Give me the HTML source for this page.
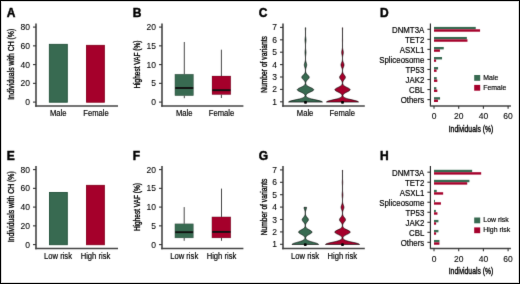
<!DOCTYPE html>
<html><head><meta charset="utf-8"><style>
html,body{margin:0;padding:0;background:#fff;}
body{width:520px;height:284px;overflow:hidden;}
svg{display:block;font-family:"Liberation Sans", sans-serif;will-change:transform;}
text{fill:#000;stroke:#000;stroke-width:0.18px;}
</style></head><body>
<svg width="520" height="284" viewBox="0 0 520 284">
<defs><filter id="soft" x="0" y="0" width="520" height="284" filterUnits="userSpaceOnUse" color-interpolation-filters="sRGB"><feConvolveMatrix order="3" kernelMatrix="0.0064 0.0672 0.0064 0.0672 0.7056 0.0672 0.0064 0.0672 0.0064" divisor="1" edgeMode="duplicate"/></filter></defs>
<g filter="url(#soft)">
<rect x="0" y="0" width="520" height="284" fill="#fff"/>
<line x1="36.00" y1="23.50" x2="36.00" y2="106.80" stroke="#444" stroke-width="1.6" stroke-linecap="butt"/>
<line x1="35.20" y1="106.00" x2="118.00" y2="106.00" stroke="#444" stroke-width="1.6" stroke-linecap="butt"/>
<line x1="33.00" y1="27.10" x2="36.00" y2="27.10" stroke="#333" stroke-width="1.1" stroke-linecap="butt"/>
<text x="29.90" y="30.10" font-size="8.5" text-anchor="end" font-weight="normal" style="stroke-width:0.08px">80</text>
<line x1="33.00" y1="45.85" x2="36.00" y2="45.85" stroke="#333" stroke-width="1.1" stroke-linecap="butt"/>
<text x="29.90" y="48.85" font-size="8.5" text-anchor="end" font-weight="normal" style="stroke-width:0.08px">60</text>
<line x1="33.00" y1="64.60" x2="36.00" y2="64.60" stroke="#333" stroke-width="1.1" stroke-linecap="butt"/>
<text x="29.90" y="67.60" font-size="8.5" text-anchor="end" font-weight="normal" style="stroke-width:0.08px">40</text>
<line x1="33.00" y1="83.35" x2="36.00" y2="83.35" stroke="#333" stroke-width="1.1" stroke-linecap="butt"/>
<text x="29.90" y="86.35" font-size="8.5" text-anchor="end" font-weight="normal" style="stroke-width:0.08px">20</text>
<line x1="33.00" y1="102.10" x2="36.00" y2="102.10" stroke="#333" stroke-width="1.1" stroke-linecap="butt"/>
<text x="29.90" y="105.10" font-size="8.5" text-anchor="end" font-weight="normal" style="stroke-width:0.08px">0</text>
<text transform="translate(14.40,64.30) rotate(-90) scale(0.83,1)" font-size="8.3" text-anchor="middle" style="stroke-width:0.35px">Individuals with CH (%)</text>
<line x1="162.00" y1="23.50" x2="162.00" y2="106.80" stroke="#444" stroke-width="1.6" stroke-linecap="butt"/>
<line x1="161.20" y1="106.00" x2="243.40" y2="106.00" stroke="#444" stroke-width="1.6" stroke-linecap="butt"/>
<line x1="159.00" y1="27.10" x2="162.00" y2="27.10" stroke="#333" stroke-width="1.1" stroke-linecap="butt"/>
<text x="156.00" y="30.10" font-size="8.5" text-anchor="end" font-weight="normal" style="stroke-width:0.08px">20</text>
<line x1="159.00" y1="45.85" x2="162.00" y2="45.85" stroke="#333" stroke-width="1.1" stroke-linecap="butt"/>
<text x="156.00" y="48.85" font-size="8.5" text-anchor="end" font-weight="normal" style="stroke-width:0.08px">15</text>
<line x1="159.00" y1="64.60" x2="162.00" y2="64.60" stroke="#333" stroke-width="1.1" stroke-linecap="butt"/>
<text x="156.00" y="67.60" font-size="8.5" text-anchor="end" font-weight="normal" style="stroke-width:0.08px">10</text>
<line x1="159.00" y1="83.35" x2="162.00" y2="83.35" stroke="#333" stroke-width="1.1" stroke-linecap="butt"/>
<text x="156.00" y="86.35" font-size="8.5" text-anchor="end" font-weight="normal" style="stroke-width:0.08px">5</text>
<line x1="159.00" y1="102.10" x2="162.00" y2="102.10" stroke="#333" stroke-width="1.1" stroke-linecap="butt"/>
<text x="156.00" y="105.10" font-size="8.5" text-anchor="end" font-weight="normal" style="stroke-width:0.08px">0</text>
<text transform="translate(139.90,64.60) rotate(-90) scale(0.785,1)" font-size="8.3" text-anchor="middle" style="stroke-width:0.35px">Highest VAF (%)</text>
<line x1="283.00" y1="23.50" x2="283.00" y2="106.80" stroke="#444" stroke-width="1.6" stroke-linecap="butt"/>
<line x1="282.20" y1="106.00" x2="364.80" y2="106.00" stroke="#444" stroke-width="1.6" stroke-linecap="butt"/>
<line x1="280.00" y1="27.40" x2="283.00" y2="27.40" stroke="#333" stroke-width="1.1" stroke-linecap="butt"/>
<text x="277.00" y="30.40" font-size="8.5" text-anchor="end" font-weight="normal" style="stroke-width:0.08px">7</text>
<line x1="280.00" y1="39.80" x2="283.00" y2="39.80" stroke="#333" stroke-width="1.1" stroke-linecap="butt"/>
<text x="277.00" y="42.80" font-size="8.5" text-anchor="end" font-weight="normal" style="stroke-width:0.08px">6</text>
<line x1="280.00" y1="52.20" x2="283.00" y2="52.20" stroke="#333" stroke-width="1.1" stroke-linecap="butt"/>
<text x="277.00" y="55.20" font-size="8.5" text-anchor="end" font-weight="normal" style="stroke-width:0.08px">5</text>
<line x1="280.00" y1="64.60" x2="283.00" y2="64.60" stroke="#333" stroke-width="1.1" stroke-linecap="butt"/>
<text x="277.00" y="67.60" font-size="8.5" text-anchor="end" font-weight="normal" style="stroke-width:0.08px">4</text>
<line x1="280.00" y1="77.00" x2="283.00" y2="77.00" stroke="#333" stroke-width="1.1" stroke-linecap="butt"/>
<text x="277.00" y="80.00" font-size="8.5" text-anchor="end" font-weight="normal" style="stroke-width:0.08px">3</text>
<line x1="280.00" y1="89.40" x2="283.00" y2="89.40" stroke="#333" stroke-width="1.1" stroke-linecap="butt"/>
<text x="277.00" y="92.40" font-size="8.5" text-anchor="end" font-weight="normal" style="stroke-width:0.08px">2</text>
<line x1="280.00" y1="101.80" x2="283.00" y2="101.80" stroke="#333" stroke-width="1.1" stroke-linecap="butt"/>
<text x="277.00" y="104.80" font-size="8.5" text-anchor="end" font-weight="normal" style="stroke-width:0.08px">1</text>
<text transform="translate(266.50,64.50) rotate(-90) scale(0.81,1)" font-size="8.3" text-anchor="middle" style="stroke-width:0.35px">Number of variants</text>
<text x="6.70" y="16.90" font-size="12.0" text-anchor="start" font-weight="bold" style="stroke-width:0.45px">A</text>
<text x="132.70" y="17.00" font-size="12.0" text-anchor="start" font-weight="bold" style="stroke-width:0.45px">B</text>
<text x="258.80" y="17.10" font-size="12.0" text-anchor="start" font-weight="bold" style="stroke-width:0.45px">C</text>
<text x="379.90" y="16.90" font-size="12.0" text-anchor="start" font-weight="bold" style="stroke-width:0.45px">D</text>
<rect x="49.35" y="44.35" width="17.95" height="57.85" fill="#386a51" stroke="#22503a" stroke-width="0.9"/>
<rect x="86.55" y="45.35" width="17.80" height="56.85" fill="#a5002b" stroke="#88001f" stroke-width="0.9"/>
<text transform="translate(58.20,116.00) scale(0.92,1)" font-size="8.3" text-anchor="middle" font-weight="normal">Male</text>
<text transform="translate(96.00,116.00) scale(0.92,1)" font-size="8.3" text-anchor="middle" font-weight="normal">Female</text>
<line x1="184.30" y1="42.00" x2="184.30" y2="74.20" stroke="#333" stroke-width="0.9" stroke-linecap="butt"/>
<line x1="184.30" y1="95.70" x2="184.30" y2="98.20" stroke="#333" stroke-width="0.9" stroke-linecap="butt"/>
<rect x="174.90" y="74.20" width="18.60" height="21.50" fill="#386a51" stroke="rgba(0,0,0,0.35)" stroke-width="0.5"/>
<line x1="175.20" y1="88.00" x2="193.20" y2="88.00" stroke="#111" stroke-width="1.9" stroke-linecap="butt"/>
<line x1="221.40" y1="49.70" x2="221.40" y2="76.00" stroke="#333" stroke-width="0.9" stroke-linecap="butt"/>
<line x1="221.40" y1="94.60" x2="221.40" y2="98.00" stroke="#333" stroke-width="0.9" stroke-linecap="butt"/>
<rect x="212.00" y="76.00" width="18.80" height="18.60" fill="#a5002b" stroke="rgba(0,0,0,0.35)" stroke-width="0.5"/>
<line x1="212.30" y1="90.20" x2="230.50" y2="90.20" stroke="#111" stroke-width="1.9" stroke-linecap="butt"/>
<text transform="translate(184.20,116.00) scale(0.92,1)" font-size="8.3" text-anchor="middle" font-weight="normal">Male</text>
<text transform="translate(221.50,116.00) scale(0.92,1)" font-size="8.3" text-anchor="middle" font-weight="normal">Female</text>
<path d="M322.40,102.10 L322.30,101.85 L321.99,101.60 L321.49,101.36 L320.81,101.11 L319.98,100.86 L319.03,100.61 L317.99,100.36 L316.88,100.12 L315.75,99.87 L314.62,99.62 L313.51,99.37 L312.45,99.12 L311.46,98.88 L310.54,98.63 L309.72,98.38 L308.99,98.13 L308.35,97.88 L307.80,97.64 L307.34,97.39 L306.96,97.14 L306.66,96.89 L306.42,96.64 L306.24,96.40 L306.11,96.15 L306.03,95.90 L305.99,95.65 L306.00,95.40 L306.05,95.16 L306.13,94.91 L306.26,94.66 L306.43,94.41 L306.64,94.16 L306.90,93.92 L307.20,93.67 L307.55,93.42 L307.95,93.17 L308.39,92.92 L308.87,92.68 L309.39,92.43 L309.92,92.18 L310.47,91.93 L311.02,91.68 L311.56,91.44 L312.07,91.19 L312.53,90.94 L312.93,90.69 L313.26,90.44 L313.50,90.20 L313.65,89.95 L313.70,89.70 L313.65,89.45 L313.50,89.20 L313.26,88.96 L312.93,88.71 L312.53,88.46 L312.07,88.21 L311.56,87.96 L311.02,87.72 L310.47,87.47 L309.92,87.22 L309.39,86.97 L308.87,86.72 L308.39,86.48 L307.95,86.23 L307.55,85.98 L307.19,85.73 L306.88,85.48 L306.62,85.24 L306.39,84.99 L306.21,84.74 L306.06,84.49 L305.94,84.24 L305.85,84.00 L305.79,83.75 L305.75,83.50 L305.73,83.25 L305.73,83.00 L305.75,82.76 L305.79,82.51 L305.84,82.26 L305.92,82.01 L306.02,81.76 L306.13,81.52 L306.27,81.27 L306.43,81.02 L306.61,80.77 L306.81,80.52 L307.02,80.28 L307.25,80.03 L307.50,79.78 L307.74,79.53 L307.99,79.28 L308.23,79.04 L308.46,78.79 L308.67,78.54 L308.85,78.29 L309.00,78.04 L309.11,77.80 L309.18,77.55 L309.20,77.30 L309.18,77.05 L309.11,76.80 L309.00,76.56 L308.85,76.31 L308.67,76.06 L308.46,75.81 L308.23,75.56 L307.99,75.32 L307.74,75.07 L307.50,74.82 L307.25,74.57 L307.02,74.32 L306.80,74.08 L306.60,73.83 L306.42,73.58 L306.26,73.33 L306.12,73.08 L306.00,72.84 L305.90,72.59 L305.82,72.34 L305.75,72.09 L305.70,71.84 L305.65,71.60 L305.62,71.35 L305.60,71.10 L305.59,70.85 L305.59,70.60 L305.59,70.36 L305.60,70.11 L305.62,69.86 L305.64,69.61 L305.67,69.36 L305.71,69.12 L305.75,68.87 L305.80,68.62 L305.86,68.37 L305.92,68.12 L305.99,67.88 L306.07,67.63 L306.15,67.38 L306.23,67.13 L306.31,66.88 L306.39,66.64 L306.46,66.39 L306.53,66.14 L306.59,65.89 L306.64,65.64 L306.67,65.40 L306.69,65.15 L306.70,64.90 L306.69,64.65 L306.67,64.40 L306.64,64.16 L306.59,63.91 L306.53,63.66 L306.46,63.41 L306.39,63.16 L306.31,62.92 L306.23,62.67 L306.15,62.42 L306.07,62.17 L305.99,61.92 L305.92,61.68 L305.86,61.43 L305.80,61.18 L305.75,60.93 L305.70,60.68 L305.66,60.44 L305.63,60.19 L305.60,59.94 L305.58,59.69 L305.56,59.44 L305.55,59.20 L305.55,58.95 L305.55,58.70 L305.55,58.45 L305.55,58.20 L305.55,57.96 L305.55,57.71 L305.55,57.46 L305.56,57.21 L305.57,56.96 L305.59,56.72 L305.60,56.47 L305.63,56.22 L305.65,55.97 L305.68,55.72 L305.71,55.48 L305.74,55.23 L305.77,54.98 L305.80,54.73 L305.84,54.48 L305.87,54.24 L305.90,53.99 L305.93,53.74 L305.95,53.49 L305.97,53.24 L305.99,53.00 L306.00,52.75 L306.00,52.50 L306.00,52.25 L305.99,52.00 L305.97,51.76 L305.95,51.51 L305.93,51.26 L305.90,51.01 L305.87,50.76 L305.84,50.52 L305.80,50.27 L305.77,50.02 L305.74,49.77 L305.71,49.52 L305.68,49.28 L305.65,49.03 L305.62,48.78 L305.60,48.53 L305.58,48.28 L305.57,48.04 L305.56,47.79 L305.55,47.54 L305.55,47.29 L305.55,47.04 L305.55,46.80 L305.55,46.55 L305.55,46.30 L305.55,46.05 L305.55,45.80 L305.55,45.56 L305.55,45.31 L305.55,45.06 L305.56,44.81 L305.57,44.56 L305.58,44.32 L305.60,44.07 L305.62,43.82 L305.65,43.57 L305.68,43.32 L305.71,43.08 L305.74,42.83 L305.77,42.58 L305.80,42.33 L305.84,42.08 L305.87,41.84 L305.90,41.59 L305.93,41.34 L305.95,41.09 L305.97,40.84 L305.99,40.60 L306.00,40.35 L306.00,40.10 L306.00,39.85 L305.99,39.60 L305.97,39.36 L305.95,39.11 L305.93,38.86 L305.90,38.61 L305.87,38.36 L305.84,38.12 L305.80,37.87 L305.77,37.62 L305.74,37.37 L305.71,37.12 L305.68,36.88 L305.65,36.63 L305.62,36.38 L305.60,36.13 L305.58,35.88 L305.57,35.64 L305.55,35.39 L305.55,35.14 L305.55,34.89 L305.55,34.64 L305.55,34.40 L305.55,34.15 L305.55,33.90 L305.55,33.65 L305.55,33.40 L305.55,33.16 L305.55,32.91 L305.55,32.66 L305.55,32.41 L305.55,32.16 L305.55,31.92 L305.55,31.67 L305.55,31.42 L305.56,31.17 L305.57,30.92 L305.58,30.68 L305.59,30.43 L305.61,30.18 L305.62,29.93 L305.63,29.68 L305.65,29.44 L305.66,29.19 L305.67,28.94 L305.68,28.69 L305.69,28.44 L305.70,28.20 L305.70,27.95 L305.70,27.70 L305.30,27.70 L305.30,27.95 L305.30,28.20 L305.31,28.44 L305.32,28.69 L305.33,28.94 L305.34,29.19 L305.35,29.44 L305.37,29.68 L305.38,29.93 L305.39,30.18 L305.41,30.43 L305.42,30.68 L305.43,30.92 L305.44,31.17 L305.45,31.42 L305.45,31.67 L305.45,31.92 L305.45,32.16 L305.45,32.41 L305.45,32.66 L305.45,32.91 L305.45,33.16 L305.45,33.40 L305.45,33.65 L305.45,33.90 L305.45,34.15 L305.45,34.40 L305.45,34.64 L305.45,34.89 L305.45,35.14 L305.45,35.39 L305.43,35.64 L305.42,35.88 L305.40,36.13 L305.38,36.38 L305.35,36.63 L305.32,36.88 L305.29,37.12 L305.26,37.37 L305.23,37.62 L305.20,37.87 L305.16,38.12 L305.13,38.36 L305.10,38.61 L305.07,38.86 L305.05,39.11 L305.03,39.36 L305.01,39.60 L305.00,39.85 L305.00,40.10 L305.00,40.35 L305.01,40.60 L305.03,40.84 L305.05,41.09 L305.07,41.34 L305.10,41.59 L305.13,41.84 L305.16,42.08 L305.20,42.33 L305.23,42.58 L305.26,42.83 L305.29,43.08 L305.32,43.32 L305.35,43.57 L305.38,43.82 L305.40,44.07 L305.42,44.32 L305.43,44.56 L305.44,44.81 L305.45,45.06 L305.45,45.31 L305.45,45.56 L305.45,45.80 L305.45,46.05 L305.45,46.30 L305.45,46.55 L305.45,46.80 L305.45,47.04 L305.45,47.29 L305.45,47.54 L305.44,47.79 L305.43,48.04 L305.42,48.28 L305.40,48.53 L305.38,48.78 L305.35,49.03 L305.32,49.28 L305.29,49.52 L305.26,49.77 L305.23,50.02 L305.20,50.27 L305.16,50.52 L305.13,50.76 L305.10,51.01 L305.07,51.26 L305.05,51.51 L305.03,51.76 L305.01,52.00 L305.00,52.25 L305.00,52.50 L305.00,52.75 L305.01,53.00 L305.03,53.24 L305.05,53.49 L305.07,53.74 L305.10,53.99 L305.13,54.24 L305.16,54.48 L305.20,54.73 L305.23,54.98 L305.26,55.23 L305.29,55.48 L305.32,55.72 L305.35,55.97 L305.37,56.22 L305.40,56.47 L305.41,56.72 L305.43,56.96 L305.44,57.21 L305.45,57.46 L305.45,57.71 L305.45,57.96 L305.45,58.20 L305.45,58.45 L305.45,58.70 L305.45,58.95 L305.45,59.20 L305.44,59.44 L305.42,59.69 L305.40,59.94 L305.37,60.19 L305.34,60.44 L305.30,60.68 L305.25,60.93 L305.20,61.18 L305.14,61.43 L305.08,61.68 L305.01,61.92 L304.93,62.17 L304.85,62.42 L304.77,62.67 L304.69,62.92 L304.61,63.16 L304.54,63.41 L304.47,63.66 L304.41,63.91 L304.36,64.16 L304.33,64.40 L304.31,64.65 L304.30,64.90 L304.31,65.15 L304.33,65.40 L304.36,65.64 L304.41,65.89 L304.47,66.14 L304.54,66.39 L304.61,66.64 L304.69,66.88 L304.77,67.13 L304.85,67.38 L304.93,67.63 L305.01,67.88 L305.08,68.12 L305.14,68.37 L305.20,68.62 L305.25,68.87 L305.29,69.12 L305.33,69.36 L305.36,69.61 L305.38,69.86 L305.40,70.11 L305.41,70.36 L305.41,70.60 L305.41,70.85 L305.40,71.10 L305.38,71.35 L305.35,71.60 L305.30,71.84 L305.25,72.09 L305.18,72.34 L305.10,72.59 L305.00,72.84 L304.88,73.08 L304.74,73.33 L304.58,73.58 L304.40,73.83 L304.20,74.08 L303.98,74.32 L303.75,74.57 L303.50,74.82 L303.26,75.07 L303.01,75.32 L302.77,75.56 L302.54,75.81 L302.33,76.06 L302.15,76.31 L302.00,76.56 L301.89,76.80 L301.82,77.05 L301.80,77.30 L301.82,77.55 L301.89,77.80 L302.00,78.04 L302.15,78.29 L302.33,78.54 L302.54,78.79 L302.77,79.04 L303.01,79.28 L303.26,79.53 L303.50,79.78 L303.75,80.03 L303.98,80.28 L304.19,80.52 L304.39,80.77 L304.57,81.02 L304.73,81.27 L304.87,81.52 L304.98,81.76 L305.08,82.01 L305.16,82.26 L305.21,82.51 L305.25,82.76 L305.27,83.00 L305.27,83.25 L305.25,83.50 L305.21,83.75 L305.15,84.00 L305.06,84.24 L304.94,84.49 L304.79,84.74 L304.61,84.99 L304.38,85.24 L304.12,85.48 L303.81,85.73 L303.45,85.98 L303.05,86.23 L302.61,86.48 L302.13,86.72 L301.61,86.97 L301.08,87.22 L300.53,87.47 L299.98,87.72 L299.44,87.96 L298.93,88.21 L298.47,88.46 L298.07,88.71 L297.74,88.96 L297.50,89.20 L297.35,89.45 L297.30,89.70 L297.35,89.95 L297.50,90.20 L297.74,90.44 L298.07,90.69 L298.47,90.94 L298.93,91.19 L299.44,91.44 L299.98,91.68 L300.53,91.93 L301.08,92.18 L301.61,92.43 L302.13,92.68 L302.61,92.92 L303.05,93.17 L303.45,93.42 L303.80,93.67 L304.10,93.92 L304.36,94.16 L304.57,94.41 L304.74,94.66 L304.87,94.91 L304.95,95.16 L305.00,95.40 L305.01,95.65 L304.97,95.90 L304.89,96.15 L304.76,96.40 L304.58,96.64 L304.34,96.89 L304.04,97.14 L303.66,97.39 L303.20,97.64 L302.65,97.88 L302.01,98.13 L301.28,98.38 L300.46,98.63 L299.54,98.88 L298.55,99.12 L297.49,99.37 L296.38,99.62 L295.25,99.87 L294.12,100.12 L293.01,100.36 L291.97,100.61 L291.02,100.86 L290.19,101.11 L289.51,101.36 L289.01,101.60 L288.70,101.85 L288.60,102.10 Z" fill="#386a51" stroke="#000" stroke-width="0.6" stroke-linejoin="round"/>
<rect x="304.10" y="100.90" width="2.8" height="2.8" rx="0.8" fill="#000"/>
<path d="M358.50,102.10 L358.40,101.85 L358.11,101.60 L357.64,101.36 L357.00,101.11 L356.21,100.86 L355.31,100.61 L354.32,100.36 L353.28,100.12 L352.20,99.87 L351.13,99.62 L350.08,99.37 L349.08,99.12 L348.14,98.88 L347.27,98.63 L346.49,98.38 L345.80,98.13 L345.20,97.88 L344.68,97.64 L344.24,97.39 L343.88,97.14 L343.59,96.89 L343.37,96.64 L343.20,96.40 L343.07,96.15 L343.00,95.90 L342.96,95.65 L342.97,95.40 L343.01,95.16 L343.09,94.91 L343.21,94.66 L343.36,94.41 L343.56,94.16 L343.80,93.92 L344.08,93.67 L344.40,93.42 L344.77,93.17 L345.18,92.92 L345.63,92.68 L346.10,92.43 L346.60,92.18 L347.11,91.93 L347.62,91.68 L348.12,91.44 L348.59,91.19 L349.01,90.94 L349.39,90.69 L349.69,90.44 L349.91,90.20 L350.05,89.95 L350.10,89.70 L350.05,89.45 L349.91,89.20 L349.69,88.96 L349.39,88.71 L349.01,88.46 L348.59,88.21 L348.12,87.96 L347.62,87.72 L347.11,87.47 L346.60,87.22 L346.10,86.97 L345.62,86.72 L345.18,86.48 L344.77,86.23 L344.40,85.98 L344.07,85.73 L343.78,85.48 L343.53,85.24 L343.33,84.99 L343.15,84.74 L343.02,84.49 L342.91,84.24 L342.82,84.00 L342.76,83.75 L342.72,83.50 L342.70,83.25 L342.70,83.00 L342.71,82.76 L342.73,82.51 L342.77,82.26 L342.83,82.01 L342.91,81.76 L343.00,81.52 L343.10,81.27 L343.23,81.02 L343.37,80.77 L343.52,80.52 L343.69,80.28 L343.87,80.03 L344.06,79.78 L344.26,79.53 L344.45,79.28 L344.64,79.04 L344.82,78.79 L344.99,78.54 L345.13,78.29 L345.24,78.04 L345.33,77.80 L345.38,77.55 L345.40,77.30 L345.38,77.05 L345.33,76.80 L345.24,76.56 L345.13,76.31 L344.99,76.06 L344.82,75.81 L344.64,75.56 L344.45,75.32 L344.26,75.07 L344.06,74.82 L343.87,74.57 L343.69,74.32 L343.52,74.08 L343.37,73.83 L343.22,73.58 L343.10,73.33 L342.99,73.08 L342.90,72.84 L342.82,72.59 L342.75,72.34 L342.70,72.09 L342.66,71.84 L342.63,71.60 L342.61,71.35 L342.59,71.10 L342.59,70.85 L342.59,70.60 L342.60,70.36 L342.62,70.11 L342.64,69.86 L342.67,69.61 L342.71,69.36 L342.76,69.12 L342.82,68.87 L342.89,68.62 L342.96,68.37 L343.05,68.12 L343.14,67.88 L343.23,67.63 L343.34,67.38 L343.44,67.13 L343.54,66.88 L343.65,66.64 L343.74,66.39 L343.83,66.14 L343.90,65.89 L343.97,65.64 L344.01,65.40 L344.04,65.15 L344.05,64.90 L344.04,64.65 L344.01,64.40 L343.97,64.16 L343.90,63.91 L343.83,63.66 L343.74,63.41 L343.65,63.16 L343.54,62.92 L343.44,62.67 L343.34,62.42 L343.23,62.17 L343.14,61.92 L343.05,61.68 L342.96,61.43 L342.89,61.18 L342.82,60.93 L342.76,60.68 L342.71,60.44 L342.67,60.19 L342.63,59.94 L342.61,59.69 L342.58,59.44 L342.57,59.20 L342.56,58.95 L342.55,58.70 L342.55,58.45 L342.55,58.20 L342.56,57.96 L342.56,57.71 L342.58,57.46 L342.60,57.21 L342.62,56.96 L342.64,56.72 L342.68,56.47 L342.71,56.22 L342.75,55.97 L342.80,55.72 L342.85,55.48 L342.90,55.23 L342.96,54.98 L343.02,54.73 L343.07,54.48 L343.13,54.24 L343.18,53.99 L343.23,53.74 L343.27,53.49 L343.30,53.24 L343.33,53.00 L343.34,52.75 L343.35,52.50 L343.34,52.25 L343.33,52.00 L343.30,51.76 L343.27,51.51 L343.23,51.26 L343.18,51.01 L343.13,50.76 L343.07,50.52 L343.02,50.27 L342.96,50.02 L342.90,49.77 L342.85,49.52 L342.80,49.28 L342.75,49.03 L342.71,48.78 L342.68,48.53 L342.64,48.28 L342.62,48.04 L342.59,47.79 L342.57,47.54 L342.56,47.29 L342.55,47.04 L342.55,46.80 L342.55,46.55 L342.55,46.30 L342.55,46.05 L342.55,45.80 L342.55,45.56 L342.55,45.31 L342.55,45.06 L342.55,44.81 L342.55,44.56 L342.55,44.32 L342.55,44.07 L342.55,43.82 L342.55,43.57 L342.55,43.32 L342.55,43.08 L342.55,42.83 L342.55,42.58 L342.56,42.33 L342.57,42.08 L342.57,41.84 L342.58,41.59 L342.59,41.34 L342.59,41.09 L342.59,40.84 L342.60,40.60 L342.60,40.35 L342.60,40.10 L342.60,39.85 L342.60,39.60 L342.59,39.36 L342.59,39.11 L342.59,38.86 L342.58,38.61 L342.57,38.36 L342.57,38.12 L342.56,37.87 L342.55,37.62 L342.55,37.37 L342.55,37.12 L342.55,36.88 L342.55,36.63 L342.55,36.38 L342.55,36.13 L342.55,35.88 L342.55,35.64 L342.55,35.39 L342.55,35.14 L342.55,34.89 L342.55,34.64 L342.55,34.40 L342.55,34.15 L342.55,33.90 L342.55,33.65 L342.55,33.40 L342.55,33.16 L342.55,32.91 L342.55,32.66 L342.55,32.41 L342.55,32.16 L342.55,31.92 L342.55,31.67 L342.55,31.42 L342.55,31.17 L342.55,30.92 L342.56,30.68 L342.57,30.43 L342.58,30.18 L342.59,29.93 L342.60,29.68 L342.61,29.44 L342.62,29.19 L342.63,28.94 L342.64,28.69 L342.64,28.44 L342.65,28.20 L342.65,27.95 L342.65,27.70 L342.35,27.70 L342.35,27.95 L342.35,28.20 L342.36,28.44 L342.36,28.69 L342.37,28.94 L342.38,29.19 L342.39,29.44 L342.40,29.68 L342.41,29.93 L342.42,30.18 L342.43,30.43 L342.44,30.68 L342.45,30.92 L342.45,31.17 L342.45,31.42 L342.45,31.67 L342.45,31.92 L342.45,32.16 L342.45,32.41 L342.45,32.66 L342.45,32.91 L342.45,33.16 L342.45,33.40 L342.45,33.65 L342.45,33.90 L342.45,34.15 L342.45,34.40 L342.45,34.64 L342.45,34.89 L342.45,35.14 L342.45,35.39 L342.45,35.64 L342.45,35.88 L342.45,36.13 L342.45,36.38 L342.45,36.63 L342.45,36.88 L342.45,37.12 L342.45,37.37 L342.45,37.62 L342.44,37.87 L342.43,38.12 L342.43,38.36 L342.42,38.61 L342.41,38.86 L342.41,39.11 L342.41,39.36 L342.40,39.60 L342.40,39.85 L342.40,40.10 L342.40,40.35 L342.40,40.60 L342.41,40.84 L342.41,41.09 L342.41,41.34 L342.42,41.59 L342.43,41.84 L342.43,42.08 L342.44,42.33 L342.45,42.58 L342.45,42.83 L342.45,43.08 L342.45,43.32 L342.45,43.57 L342.45,43.82 L342.45,44.07 L342.45,44.32 L342.45,44.56 L342.45,44.81 L342.45,45.06 L342.45,45.31 L342.45,45.56 L342.45,45.80 L342.45,46.05 L342.45,46.30 L342.45,46.55 L342.45,46.80 L342.45,47.04 L342.44,47.29 L342.43,47.54 L342.41,47.79 L342.38,48.04 L342.36,48.28 L342.32,48.53 L342.29,48.78 L342.25,49.03 L342.20,49.28 L342.15,49.52 L342.10,49.77 L342.04,50.02 L341.98,50.27 L341.93,50.52 L341.87,50.76 L341.82,51.01 L341.77,51.26 L341.73,51.51 L341.70,51.76 L341.67,52.00 L341.66,52.25 L341.65,52.50 L341.66,52.75 L341.67,53.00 L341.70,53.24 L341.73,53.49 L341.77,53.74 L341.82,53.99 L341.87,54.24 L341.93,54.48 L341.98,54.73 L342.04,54.98 L342.10,55.23 L342.15,55.48 L342.20,55.72 L342.25,55.97 L342.29,56.22 L342.32,56.47 L342.36,56.72 L342.38,56.96 L342.40,57.21 L342.42,57.46 L342.44,57.71 L342.44,57.96 L342.45,58.20 L342.45,58.45 L342.45,58.70 L342.44,58.95 L342.43,59.20 L342.42,59.44 L342.39,59.69 L342.37,59.94 L342.33,60.19 L342.29,60.44 L342.24,60.68 L342.18,60.93 L342.11,61.18 L342.04,61.43 L341.95,61.68 L341.86,61.92 L341.77,62.17 L341.66,62.42 L341.56,62.67 L341.46,62.92 L341.35,63.16 L341.26,63.41 L341.17,63.66 L341.10,63.91 L341.03,64.16 L340.99,64.40 L340.96,64.65 L340.95,64.90 L340.96,65.15 L340.99,65.40 L341.03,65.64 L341.10,65.89 L341.17,66.14 L341.26,66.39 L341.35,66.64 L341.46,66.88 L341.56,67.13 L341.66,67.38 L341.77,67.63 L341.86,67.88 L341.95,68.12 L342.04,68.37 L342.11,68.62 L342.18,68.87 L342.24,69.12 L342.29,69.36 L342.33,69.61 L342.36,69.86 L342.38,70.11 L342.40,70.36 L342.41,70.60 L342.41,70.85 L342.41,71.10 L342.39,71.35 L342.37,71.60 L342.34,71.84 L342.30,72.09 L342.25,72.34 L342.18,72.59 L342.10,72.84 L342.01,73.08 L341.90,73.33 L341.78,73.58 L341.63,73.83 L341.48,74.08 L341.31,74.32 L341.13,74.57 L340.94,74.82 L340.74,75.07 L340.55,75.32 L340.36,75.56 L340.18,75.81 L340.01,76.06 L339.87,76.31 L339.76,76.56 L339.67,76.80 L339.62,77.05 L339.60,77.30 L339.62,77.55 L339.67,77.80 L339.76,78.04 L339.87,78.29 L340.01,78.54 L340.18,78.79 L340.36,79.04 L340.55,79.28 L340.74,79.53 L340.94,79.78 L341.13,80.03 L341.31,80.28 L341.48,80.52 L341.63,80.77 L341.77,81.02 L341.90,81.27 L342.00,81.52 L342.09,81.76 L342.17,82.01 L342.23,82.26 L342.27,82.51 L342.29,82.76 L342.30,83.00 L342.30,83.25 L342.28,83.50 L342.24,83.75 L342.18,84.00 L342.09,84.24 L341.98,84.49 L341.85,84.74 L341.67,84.99 L341.47,85.24 L341.22,85.48 L340.93,85.73 L340.60,85.98 L340.23,86.23 L339.82,86.48 L339.38,86.72 L338.90,86.97 L338.40,87.22 L337.89,87.47 L337.38,87.72 L336.88,87.96 L336.41,88.21 L335.99,88.46 L335.61,88.71 L335.31,88.96 L335.09,89.20 L334.95,89.45 L334.90,89.70 L334.95,89.95 L335.09,90.20 L335.31,90.44 L335.61,90.69 L335.99,90.94 L336.41,91.19 L336.88,91.44 L337.38,91.68 L337.89,91.93 L338.40,92.18 L338.90,92.43 L339.37,92.68 L339.82,92.92 L340.23,93.17 L340.60,93.42 L340.92,93.67 L341.20,93.92 L341.44,94.16 L341.64,94.41 L341.79,94.66 L341.91,94.91 L341.99,95.16 L342.03,95.40 L342.04,95.65 L342.00,95.90 L341.93,96.15 L341.80,96.40 L341.63,96.64 L341.41,96.89 L341.12,97.14 L340.76,97.39 L340.32,97.64 L339.80,97.88 L339.20,98.13 L338.51,98.38 L337.73,98.63 L336.86,98.88 L335.92,99.12 L334.92,99.37 L333.87,99.62 L332.80,99.87 L331.72,100.12 L330.68,100.36 L329.69,100.61 L328.79,100.86 L328.00,101.11 L327.36,101.36 L326.89,101.60 L326.60,101.85 L326.50,102.10 Z" fill="#a5002b" stroke="#000" stroke-width="0.6" stroke-linejoin="round"/>
<rect x="341.10" y="100.90" width="2.8" height="2.8" rx="0.8" fill="#000"/>
<text transform="translate(305.10,115.80) scale(0.92,1)" font-size="8.3" text-anchor="middle" font-weight="normal">Male</text>
<text transform="translate(342.30,115.80) scale(0.92,1)" font-size="8.3" text-anchor="middle" font-weight="normal">Female</text>
<line x1="430.40" y1="23.50" x2="430.40" y2="106.00" stroke="#222" stroke-width="1.15" stroke-linecap="butt"/>
<line x1="429.90" y1="106.00" x2="510.90" y2="106.00" stroke="#444" stroke-width="1.6" stroke-linecap="butt"/>
<line x1="427.40" y1="29.30" x2="430.40" y2="29.30" stroke="#333" stroke-width="1.1" stroke-linecap="butt"/>
<text transform="translate(424.30,32.60) scale(0.95,1)" font-size="8.3" text-anchor="end" font-weight="normal">DNMT3A</text>
<rect x="434.00" y="26.90" width="41.74" height="2.40" fill="#386a51" stroke="none" stroke-width="0"/>
<rect x="434.00" y="29.30" width="46.07" height="2.40" fill="#a5002b" stroke="none" stroke-width="0"/>
<line x1="427.40" y1="39.34" x2="430.40" y2="39.34" stroke="#333" stroke-width="1.1" stroke-linecap="butt"/>
<text transform="translate(424.30,42.64) scale(0.95,1)" font-size="8.3" text-anchor="end" font-weight="normal">TET2</text>
<rect x="434.00" y="36.94" width="32.85" height="2.40" fill="#386a51" stroke="none" stroke-width="0"/>
<rect x="434.00" y="39.34" width="33.47" height="2.40" fill="#a5002b" stroke="none" stroke-width="0"/>
<line x1="427.40" y1="49.38" x2="430.40" y2="49.38" stroke="#333" stroke-width="1.1" stroke-linecap="butt"/>
<text transform="translate(424.30,52.68) scale(0.95,1)" font-size="8.3" text-anchor="end" font-weight="normal">ASXL1</text>
<rect x="434.00" y="46.98" width="9.76" height="2.40" fill="#386a51" stroke="none" stroke-width="0"/>
<rect x="434.00" y="49.38" width="5.93" height="2.40" fill="#a5002b" stroke="none" stroke-width="0"/>
<line x1="427.40" y1="59.42" x2="430.40" y2="59.42" stroke="#333" stroke-width="1.1" stroke-linecap="butt"/>
<text transform="translate(424.30,62.72) scale(0.95,1)" font-size="8.3" text-anchor="end" font-weight="normal">Spliceosome</text>
<rect x="434.00" y="57.02" width="8.03" height="2.40" fill="#386a51" stroke="none" stroke-width="0"/>
<rect x="434.00" y="59.42" width="2.10" height="2.40" fill="#a5002b" stroke="none" stroke-width="0"/>
<line x1="427.40" y1="69.46" x2="430.40" y2="69.46" stroke="#333" stroke-width="1.1" stroke-linecap="butt"/>
<text transform="translate(424.30,72.76) scale(0.95,1)" font-size="8.3" text-anchor="end" font-weight="normal">TP53</text>
<rect x="434.00" y="67.06" width="4.08" height="2.40" fill="#386a51" stroke="none" stroke-width="0"/>
<rect x="434.00" y="69.46" width="2.59" height="2.40" fill="#a5002b" stroke="none" stroke-width="0"/>
<line x1="427.40" y1="79.50" x2="430.40" y2="79.50" stroke="#333" stroke-width="1.1" stroke-linecap="butt"/>
<text transform="translate(424.30,82.80) scale(0.95,1)" font-size="8.3" text-anchor="end" font-weight="normal">JAK2</text>
<rect x="434.00" y="77.10" width="2.72" height="2.40" fill="#386a51" stroke="none" stroke-width="0"/>
<rect x="434.00" y="79.50" width="3.33" height="2.40" fill="#a5002b" stroke="none" stroke-width="0"/>
<line x1="427.40" y1="89.54" x2="430.40" y2="89.54" stroke="#333" stroke-width="1.1" stroke-linecap="butt"/>
<text transform="translate(424.30,92.84) scale(0.95,1)" font-size="8.3" text-anchor="end" font-weight="normal">CBL</text>
<rect x="434.00" y="87.14" width="2.35" height="2.40" fill="#386a51" stroke="none" stroke-width="0"/>
<rect x="434.00" y="89.54" width="3.33" height="2.40" fill="#a5002b" stroke="none" stroke-width="0"/>
<line x1="427.40" y1="99.58" x2="430.40" y2="99.58" stroke="#333" stroke-width="1.1" stroke-linecap="butt"/>
<text transform="translate(424.30,102.88) scale(0.95,1)" font-size="8.3" text-anchor="end" font-weight="normal">Others</text>
<rect x="434.00" y="97.18" width="6.05" height="2.40" fill="#386a51" stroke="none" stroke-width="0"/>
<rect x="434.00" y="99.58" width="3.95" height="2.40" fill="#a5002b" stroke="none" stroke-width="0"/>
<line x1="434.00" y1="106.00" x2="434.00" y2="108.70" stroke="#333" stroke-width="1.1" stroke-linecap="butt"/>
<text x="434.00" y="119.00" font-size="8.5" text-anchor="middle" font-weight="normal" style="stroke-width:0.08px">0</text>
<line x1="458.70" y1="106.00" x2="458.70" y2="108.70" stroke="#333" stroke-width="1.1" stroke-linecap="butt"/>
<text x="458.70" y="119.00" font-size="8.5" text-anchor="middle" font-weight="normal" style="stroke-width:0.08px">20</text>
<line x1="483.40" y1="106.00" x2="483.40" y2="108.70" stroke="#333" stroke-width="1.1" stroke-linecap="butt"/>
<text x="483.40" y="119.00" font-size="8.5" text-anchor="middle" font-weight="normal" style="stroke-width:0.08px">40</text>
<line x1="508.10" y1="106.00" x2="508.10" y2="108.70" stroke="#333" stroke-width="1.1" stroke-linecap="butt"/>
<text x="508.10" y="119.00" font-size="8.5" text-anchor="middle" font-weight="normal" style="stroke-width:0.08px">60</text>
<text transform="translate(471.00,131.60) scale(0.82,1)" font-size="8.3" text-anchor="middle" font-weight="normal" style="stroke-width:0.35px">Individuals (%)</text>
<rect x="474.20" y="75.00" width="6.00" height="5.80" fill="#386a51" stroke="none" stroke-width="0"/>
<rect x="474.20" y="84.90" width="6.00" height="5.80" fill="#a5002b" stroke="none" stroke-width="0"/>
<text transform="translate(483.30,79.95) scale(0.91,1)" font-size="7.6" text-anchor="start" font-weight="normal">Male</text>
<text transform="translate(483.30,89.75) scale(0.91,1)" font-size="7.6" text-anchor="start" font-weight="normal">Female</text>
<line x1="36.00" y1="166.00" x2="36.00" y2="249.30" stroke="#444" stroke-width="1.6" stroke-linecap="butt"/>
<line x1="35.20" y1="248.50" x2="118.00" y2="248.50" stroke="#444" stroke-width="1.6" stroke-linecap="butt"/>
<line x1="33.00" y1="169.60" x2="36.00" y2="169.60" stroke="#333" stroke-width="1.1" stroke-linecap="butt"/>
<text x="29.90" y="172.60" font-size="8.5" text-anchor="end" font-weight="normal" style="stroke-width:0.08px">80</text>
<line x1="33.00" y1="188.35" x2="36.00" y2="188.35" stroke="#333" stroke-width="1.1" stroke-linecap="butt"/>
<text x="29.90" y="191.35" font-size="8.5" text-anchor="end" font-weight="normal" style="stroke-width:0.08px">60</text>
<line x1="33.00" y1="207.10" x2="36.00" y2="207.10" stroke="#333" stroke-width="1.1" stroke-linecap="butt"/>
<text x="29.90" y="210.10" font-size="8.5" text-anchor="end" font-weight="normal" style="stroke-width:0.08px">40</text>
<line x1="33.00" y1="225.85" x2="36.00" y2="225.85" stroke="#333" stroke-width="1.1" stroke-linecap="butt"/>
<text x="29.90" y="228.85" font-size="8.5" text-anchor="end" font-weight="normal" style="stroke-width:0.08px">20</text>
<line x1="33.00" y1="244.60" x2="36.00" y2="244.60" stroke="#333" stroke-width="1.1" stroke-linecap="butt"/>
<text x="29.90" y="247.60" font-size="8.5" text-anchor="end" font-weight="normal" style="stroke-width:0.08px">0</text>
<text transform="translate(14.40,206.80) rotate(-90) scale(0.83,1)" font-size="8.3" text-anchor="middle" style="stroke-width:0.35px">Individuals with CH (%)</text>
<line x1="162.00" y1="166.00" x2="162.00" y2="249.30" stroke="#444" stroke-width="1.6" stroke-linecap="butt"/>
<line x1="161.20" y1="248.50" x2="243.40" y2="248.50" stroke="#444" stroke-width="1.6" stroke-linecap="butt"/>
<line x1="159.00" y1="169.60" x2="162.00" y2="169.60" stroke="#333" stroke-width="1.1" stroke-linecap="butt"/>
<text x="156.00" y="172.60" font-size="8.5" text-anchor="end" font-weight="normal" style="stroke-width:0.08px">20</text>
<line x1="159.00" y1="188.35" x2="162.00" y2="188.35" stroke="#333" stroke-width="1.1" stroke-linecap="butt"/>
<text x="156.00" y="191.35" font-size="8.5" text-anchor="end" font-weight="normal" style="stroke-width:0.08px">15</text>
<line x1="159.00" y1="207.10" x2="162.00" y2="207.10" stroke="#333" stroke-width="1.1" stroke-linecap="butt"/>
<text x="156.00" y="210.10" font-size="8.5" text-anchor="end" font-weight="normal" style="stroke-width:0.08px">10</text>
<line x1="159.00" y1="225.85" x2="162.00" y2="225.85" stroke="#333" stroke-width="1.1" stroke-linecap="butt"/>
<text x="156.00" y="228.85" font-size="8.5" text-anchor="end" font-weight="normal" style="stroke-width:0.08px">5</text>
<line x1="159.00" y1="244.60" x2="162.00" y2="244.60" stroke="#333" stroke-width="1.1" stroke-linecap="butt"/>
<text x="156.00" y="247.60" font-size="8.5" text-anchor="end" font-weight="normal" style="stroke-width:0.08px">0</text>
<text transform="translate(139.90,207.10) rotate(-90) scale(0.785,1)" font-size="8.3" text-anchor="middle" style="stroke-width:0.35px">Highest VAF (%)</text>
<line x1="283.00" y1="166.00" x2="283.00" y2="249.30" stroke="#444" stroke-width="1.6" stroke-linecap="butt"/>
<line x1="282.20" y1="248.50" x2="364.80" y2="248.50" stroke="#444" stroke-width="1.6" stroke-linecap="butt"/>
<line x1="280.00" y1="169.90" x2="283.00" y2="169.90" stroke="#333" stroke-width="1.1" stroke-linecap="butt"/>
<text x="277.00" y="172.90" font-size="8.5" text-anchor="end" font-weight="normal" style="stroke-width:0.08px">7</text>
<line x1="280.00" y1="182.30" x2="283.00" y2="182.30" stroke="#333" stroke-width="1.1" stroke-linecap="butt"/>
<text x="277.00" y="185.30" font-size="8.5" text-anchor="end" font-weight="normal" style="stroke-width:0.08px">6</text>
<line x1="280.00" y1="194.70" x2="283.00" y2="194.70" stroke="#333" stroke-width="1.1" stroke-linecap="butt"/>
<text x="277.00" y="197.70" font-size="8.5" text-anchor="end" font-weight="normal" style="stroke-width:0.08px">5</text>
<line x1="280.00" y1="207.10" x2="283.00" y2="207.10" stroke="#333" stroke-width="1.1" stroke-linecap="butt"/>
<text x="277.00" y="210.10" font-size="8.5" text-anchor="end" font-weight="normal" style="stroke-width:0.08px">4</text>
<line x1="280.00" y1="219.50" x2="283.00" y2="219.50" stroke="#333" stroke-width="1.1" stroke-linecap="butt"/>
<text x="277.00" y="222.50" font-size="8.5" text-anchor="end" font-weight="normal" style="stroke-width:0.08px">3</text>
<line x1="280.00" y1="231.90" x2="283.00" y2="231.90" stroke="#333" stroke-width="1.1" stroke-linecap="butt"/>
<text x="277.00" y="234.90" font-size="8.5" text-anchor="end" font-weight="normal" style="stroke-width:0.08px">2</text>
<line x1="280.00" y1="244.30" x2="283.00" y2="244.30" stroke="#333" stroke-width="1.1" stroke-linecap="butt"/>
<text x="277.00" y="247.30" font-size="8.5" text-anchor="end" font-weight="normal" style="stroke-width:0.08px">1</text>
<text transform="translate(266.50,207.00) rotate(-90) scale(0.81,1)" font-size="8.3" text-anchor="middle" style="stroke-width:0.35px">Number of variants</text>
<text x="6.80" y="159.50" font-size="12.0" text-anchor="start" font-weight="bold" style="stroke-width:0.45px">E</text>
<text x="132.70" y="159.50" font-size="12.0" text-anchor="start" font-weight="bold" style="stroke-width:0.45px">F</text>
<text x="258.80" y="159.60" font-size="12.0" text-anchor="start" font-weight="bold" style="stroke-width:0.45px">G</text>
<text x="379.90" y="159.50" font-size="12.0" text-anchor="start" font-weight="bold" style="stroke-width:0.45px">H</text>
<rect x="49.45" y="192.45" width="17.85" height="52.25" fill="#386a51" stroke="#22503a" stroke-width="0.9"/>
<rect x="86.55" y="185.35" width="17.80" height="59.35" fill="#a5002b" stroke="#88001f" stroke-width="0.9"/>
<text transform="translate(58.00,259.00) scale(0.92,1)" font-size="8.3" text-anchor="middle" font-weight="normal">Low risk</text>
<text transform="translate(95.50,259.00) scale(0.92,1)" font-size="8.3" text-anchor="middle" font-weight="normal">High risk</text>
<line x1="184.20" y1="207.10" x2="184.20" y2="223.80" stroke="#333" stroke-width="0.9" stroke-linecap="butt"/>
<line x1="184.20" y1="237.90" x2="184.20" y2="240.80" stroke="#333" stroke-width="0.9" stroke-linecap="butt"/>
<rect x="174.90" y="223.80" width="18.50" height="14.10" fill="#386a51" stroke="rgba(0,0,0,0.35)" stroke-width="0.5"/>
<line x1="175.20" y1="232.20" x2="193.10" y2="232.20" stroke="#111" stroke-width="1.9" stroke-linecap="butt"/>
<line x1="221.50" y1="188.60" x2="221.50" y2="216.90" stroke="#333" stroke-width="0.9" stroke-linecap="butt"/>
<line x1="221.50" y1="237.90" x2="221.50" y2="240.80" stroke="#333" stroke-width="0.9" stroke-linecap="butt"/>
<rect x="211.90" y="216.90" width="18.90" height="21.00" fill="#a5002b" stroke="rgba(0,0,0,0.35)" stroke-width="0.5"/>
<line x1="212.20" y1="231.90" x2="230.50" y2="231.90" stroke="#111" stroke-width="1.9" stroke-linecap="butt"/>
<text transform="translate(184.20,259.00) scale(0.92,1)" font-size="8.3" text-anchor="middle" font-weight="normal">Low risk</text>
<text transform="translate(221.50,259.00) scale(0.92,1)" font-size="8.3" text-anchor="middle" font-weight="normal">High risk</text>
<path d="M318.60,244.50 L318.58,244.38 L318.52,244.25 L318.42,244.13 L318.28,244.00 L318.10,243.88 L317.88,243.76 L317.63,243.63 L317.35,243.51 L317.04,243.38 L316.70,243.26 L316.33,243.14 L315.95,243.01 L315.55,242.89 L315.13,242.76 L314.70,242.64 L314.26,242.52 L313.81,242.39 L313.37,242.27 L312.92,242.14 L312.47,242.02 L312.03,241.90 L311.60,241.77 L311.18,241.65 L310.77,241.52 L310.37,241.40 L309.99,241.28 L309.62,241.15 L309.27,241.03 L308.94,240.90 L308.62,240.78 L308.32,240.66 L308.04,240.53 L307.78,240.41 L307.54,240.28 L307.32,240.16 L307.11,240.04 L306.92,239.91 L306.75,239.79 L306.59,239.66 L306.45,239.54 L306.32,239.42 L306.21,239.29 L306.11,239.17 L306.02,239.04 L305.95,238.92 L305.88,238.80 L305.83,238.67 L305.78,238.55 L305.75,238.42 L305.72,238.30 L305.71,238.18 L305.70,238.05 L305.70,237.93 L305.70,237.80 L305.72,237.68 L305.74,237.56 L305.77,237.43 L305.81,237.31 L305.86,237.18 L305.92,237.06 L305.98,236.94 L306.06,236.81 L306.14,236.69 L306.23,236.56 L306.33,236.44 L306.44,236.32 L306.56,236.19 L306.69,236.07 L306.83,235.94 L306.98,235.82 L307.14,235.70 L307.30,235.57 L307.48,235.45 L307.66,235.32 L307.86,235.20 L308.06,235.08 L308.26,234.95 L308.48,234.83 L308.69,234.70 L308.91,234.58 L309.14,234.46 L309.36,234.33 L309.59,234.21 L309.81,234.08 L310.03,233.96 L310.25,233.84 L310.46,233.71 L310.67,233.59 L310.86,233.46 L311.04,233.34 L311.21,233.22 L311.37,233.09 L311.51,232.97 L311.64,232.84 L311.75,232.72 L311.84,232.60 L311.91,232.47 L311.96,232.35 L311.99,232.22 L312.00,232.10 L311.99,231.98 L311.96,231.85 L311.91,231.73 L311.84,231.60 L311.75,231.48 L311.64,231.36 L311.51,231.23 L311.37,231.11 L311.21,230.98 L311.04,230.86 L310.86,230.74 L310.66,230.61 L310.46,230.49 L310.25,230.36 L310.03,230.24 L309.81,230.12 L309.59,229.99 L309.36,229.87 L309.14,229.74 L308.91,229.62 L308.69,229.50 L308.47,229.37 L308.26,229.25 L308.05,229.12 L307.85,229.00 L307.66,228.88 L307.48,228.75 L307.30,228.63 L307.13,228.50 L306.97,228.38 L306.82,228.26 L306.68,228.13 L306.55,228.01 L306.43,227.88 L306.32,227.76 L306.21,227.64 L306.12,227.51 L306.03,227.39 L305.95,227.26 L305.88,227.14 L305.81,227.02 L305.76,226.89 L305.71,226.77 L305.66,226.64 L305.62,226.52 L305.59,226.40 L305.56,226.27 L305.54,226.15 L305.52,226.02 L305.51,225.90 L305.50,225.78 L305.49,225.65 L305.49,225.53 L305.49,225.40 L305.50,225.28 L305.51,225.16 L305.52,225.03 L305.54,224.91 L305.56,224.78 L305.59,224.66 L305.62,224.54 L305.65,224.41 L305.69,224.29 L305.73,224.16 L305.78,224.04 L305.83,223.92 L305.88,223.79 L305.94,223.67 L306.01,223.54 L306.08,223.42 L306.15,223.30 L306.23,223.17 L306.31,223.05 L306.39,222.92 L306.48,222.80 L306.58,222.68 L306.67,222.55 L306.77,222.43 L306.87,222.30 L306.97,222.18 L307.08,222.06 L307.18,221.93 L307.28,221.81 L307.39,221.68 L307.49,221.56 L307.59,221.44 L307.69,221.31 L307.78,221.19 L307.87,221.06 L307.96,220.94 L308.04,220.82 L308.11,220.69 L308.17,220.57 L308.23,220.44 L308.28,220.32 L308.32,220.20 L308.36,220.07 L308.38,219.95 L308.40,219.82 L308.40,219.70 L308.40,219.58 L308.38,219.45 L308.36,219.33 L308.32,219.20 L308.28,219.08 L308.23,218.96 L308.17,218.83 L308.11,218.71 L308.04,218.58 L307.96,218.46 L307.87,218.34 L307.78,218.21 L307.69,218.09 L307.59,217.96 L307.49,217.84 L307.39,217.72 L307.28,217.59 L307.18,217.47 L307.08,217.34 L306.97,217.22 L306.87,217.10 L306.77,216.97 L306.67,216.85 L306.57,216.72 L306.48,216.60 L306.39,216.48 L306.31,216.35 L306.22,216.23 L306.15,216.10 L306.07,215.98 L306.00,215.86 L305.94,215.73 L305.88,215.61 L305.82,215.48 L305.77,215.36 L305.72,215.24 L305.68,215.11 L305.64,214.99 L305.60,214.86 L305.57,214.74 L305.54,214.62 L305.51,214.49 L305.49,214.37 L305.47,214.24 L305.45,214.12 L305.43,214.00 L305.42,213.87 L305.41,213.75 L305.40,213.62 L305.39,213.50 L305.39,213.38 L305.38,213.25 L305.38,213.13 L305.38,213.00 L305.39,212.88 L305.39,212.76 L305.40,212.63 L305.40,212.51 L305.41,212.38 L305.42,212.26 L305.43,212.14 L305.45,212.01 L305.46,211.89 L305.48,211.76 L305.50,211.64 L305.52,211.52 L305.55,211.39 L305.57,211.27 L305.60,211.14 L305.63,211.02 L305.66,210.90 L305.69,210.77 L305.72,210.65 L305.76,210.52 L305.80,210.40 L305.83,210.28 L305.87,210.15 L305.92,210.03 L305.96,209.90 L306.00,209.78 L306.04,209.66 L306.09,209.53 L306.13,209.41 L306.18,209.28 L306.22,209.16 L306.26,209.04 L306.30,208.91 L306.34,208.79 L306.38,208.66 L306.41,208.54 L306.45,208.42 L306.48,208.29 L306.51,208.17 L306.53,208.04 L306.55,207.92 L306.57,207.80 L306.58,207.67 L306.59,207.55 L306.60,207.42 L306.60,207.30 L304.00,207.30 L304.00,207.42 L304.01,207.55 L304.02,207.67 L304.03,207.80 L304.05,207.92 L304.07,208.04 L304.09,208.17 L304.12,208.29 L304.15,208.42 L304.19,208.54 L304.22,208.66 L304.26,208.79 L304.30,208.91 L304.34,209.04 L304.38,209.16 L304.42,209.28 L304.47,209.41 L304.51,209.53 L304.56,209.66 L304.60,209.78 L304.64,209.90 L304.68,210.03 L304.73,210.15 L304.77,210.28 L304.80,210.40 L304.84,210.52 L304.88,210.65 L304.91,210.77 L304.94,210.90 L304.97,211.02 L305.00,211.14 L305.03,211.27 L305.05,211.39 L305.08,211.52 L305.10,211.64 L305.12,211.76 L305.14,211.89 L305.15,212.01 L305.17,212.14 L305.18,212.26 L305.19,212.38 L305.20,212.51 L305.20,212.63 L305.21,212.76 L305.21,212.88 L305.22,213.00 L305.22,213.13 L305.22,213.25 L305.21,213.38 L305.21,213.50 L305.20,213.62 L305.19,213.75 L305.18,213.87 L305.17,214.00 L305.15,214.12 L305.13,214.24 L305.11,214.37 L305.09,214.49 L305.06,214.62 L305.03,214.74 L305.00,214.86 L304.96,214.99 L304.92,215.11 L304.88,215.24 L304.83,215.36 L304.78,215.48 L304.72,215.61 L304.66,215.73 L304.60,215.86 L304.53,215.98 L304.45,216.10 L304.38,216.23 L304.29,216.35 L304.21,216.48 L304.12,216.60 L304.03,216.72 L303.93,216.85 L303.83,216.97 L303.73,217.10 L303.63,217.22 L303.52,217.34 L303.42,217.47 L303.32,217.59 L303.21,217.72 L303.11,217.84 L303.01,217.96 L302.91,218.09 L302.82,218.21 L302.73,218.34 L302.64,218.46 L302.56,218.58 L302.49,218.71 L302.43,218.83 L302.37,218.96 L302.32,219.08 L302.28,219.20 L302.24,219.33 L302.22,219.45 L302.20,219.58 L302.20,219.70 L302.20,219.82 L302.22,219.95 L302.24,220.07 L302.28,220.20 L302.32,220.32 L302.37,220.44 L302.43,220.57 L302.49,220.69 L302.56,220.82 L302.64,220.94 L302.73,221.06 L302.82,221.19 L302.91,221.31 L303.01,221.44 L303.11,221.56 L303.21,221.68 L303.32,221.81 L303.42,221.93 L303.52,222.06 L303.63,222.18 L303.73,222.30 L303.83,222.43 L303.93,222.55 L304.02,222.68 L304.12,222.80 L304.21,222.92 L304.29,223.05 L304.37,223.17 L304.45,223.30 L304.52,223.42 L304.59,223.54 L304.66,223.67 L304.72,223.79 L304.77,223.92 L304.82,224.04 L304.87,224.16 L304.91,224.29 L304.95,224.41 L304.98,224.54 L305.01,224.66 L305.04,224.78 L305.06,224.91 L305.08,225.03 L305.09,225.16 L305.10,225.28 L305.11,225.40 L305.11,225.53 L305.11,225.65 L305.10,225.78 L305.09,225.90 L305.08,226.02 L305.06,226.15 L305.04,226.27 L305.01,226.40 L304.98,226.52 L304.94,226.64 L304.89,226.77 L304.84,226.89 L304.79,227.02 L304.72,227.14 L304.65,227.26 L304.57,227.39 L304.48,227.51 L304.39,227.64 L304.28,227.76 L304.17,227.88 L304.05,228.01 L303.92,228.13 L303.78,228.26 L303.63,228.38 L303.47,228.50 L303.30,228.63 L303.12,228.75 L302.94,228.88 L302.75,229.00 L302.55,229.12 L302.34,229.25 L302.13,229.37 L301.91,229.50 L301.69,229.62 L301.46,229.74 L301.24,229.87 L301.01,229.99 L300.79,230.12 L300.57,230.24 L300.35,230.36 L300.14,230.49 L299.94,230.61 L299.74,230.74 L299.56,230.86 L299.39,230.98 L299.23,231.11 L299.09,231.23 L298.96,231.36 L298.85,231.48 L298.76,231.60 L298.69,231.73 L298.64,231.85 L298.61,231.98 L298.60,232.10 L298.61,232.22 L298.64,232.35 L298.69,232.47 L298.76,232.60 L298.85,232.72 L298.96,232.84 L299.09,232.97 L299.23,233.09 L299.39,233.22 L299.56,233.34 L299.74,233.46 L299.93,233.59 L300.14,233.71 L300.35,233.84 L300.57,233.96 L300.79,234.08 L301.01,234.21 L301.24,234.33 L301.46,234.46 L301.69,234.58 L301.91,234.70 L302.12,234.83 L302.34,234.95 L302.54,235.08 L302.74,235.20 L302.94,235.32 L303.12,235.45 L303.30,235.57 L303.46,235.70 L303.62,235.82 L303.77,235.94 L303.91,236.07 L304.04,236.19 L304.16,236.32 L304.27,236.44 L304.37,236.56 L304.46,236.69 L304.54,236.81 L304.62,236.94 L304.68,237.06 L304.74,237.18 L304.79,237.31 L304.83,237.43 L304.86,237.56 L304.88,237.68 L304.90,237.80 L304.90,237.93 L304.90,238.05 L304.89,238.18 L304.88,238.30 L304.85,238.42 L304.82,238.55 L304.77,238.67 L304.72,238.80 L304.65,238.92 L304.58,239.04 L304.49,239.17 L304.39,239.29 L304.28,239.42 L304.15,239.54 L304.01,239.66 L303.85,239.79 L303.68,239.91 L303.49,240.04 L303.28,240.16 L303.06,240.28 L302.82,240.41 L302.56,240.53 L302.28,240.66 L301.98,240.78 L301.66,240.90 L301.33,241.03 L300.98,241.15 L300.61,241.28 L300.23,241.40 L299.83,241.52 L299.42,241.65 L299.00,241.77 L298.57,241.90 L298.13,242.02 L297.68,242.14 L297.23,242.27 L296.79,242.39 L296.34,242.52 L295.90,242.64 L295.47,242.76 L295.05,242.89 L294.65,243.01 L294.27,243.14 L293.90,243.26 L293.56,243.38 L293.25,243.51 L292.97,243.63 L292.72,243.76 L292.50,243.88 L292.32,244.00 L292.18,244.13 L292.08,244.25 L292.02,244.38 L292.00,244.50 Z" fill="#386a51" stroke="#000" stroke-width="0.6" stroke-linejoin="round"/>
<rect x="303.90" y="243.30" width="2.8" height="2.8" rx="0.8" fill="#000"/>
<path d="M359.50,244.50 L359.40,244.25 L359.09,244.00 L358.58,243.76 L357.90,243.51 L357.07,243.26 L356.11,243.01 L355.06,242.76 L353.95,242.52 L352.81,242.27 L351.67,242.02 L350.56,241.77 L349.49,241.52 L348.49,241.28 L347.57,241.03 L346.74,240.78 L346.01,240.53 L345.36,240.28 L344.81,240.04 L344.35,239.79 L343.97,239.54 L343.66,239.29 L343.42,239.04 L343.23,238.80 L343.10,238.55 L343.02,238.30 L342.98,238.05 L342.98,237.80 L343.02,237.56 L343.10,237.31 L343.22,237.06 L343.37,236.81 L343.57,236.56 L343.81,236.32 L344.10,236.07 L344.43,235.82 L344.80,235.57 L345.22,235.32 L345.67,235.08 L346.15,234.83 L346.65,234.58 L347.17,234.33 L347.69,234.08 L348.19,233.84 L348.67,233.59 L349.10,233.34 L349.48,233.09 L349.78,232.84 L350.01,232.60 L350.15,232.35 L350.20,232.10 L350.15,231.85 L350.01,231.60 L349.78,231.36 L349.48,231.11 L349.10,230.86 L348.67,230.61 L348.19,230.36 L347.69,230.12 L347.17,229.87 L346.65,229.62 L346.15,229.37 L345.67,229.12 L345.21,228.88 L344.80,228.63 L344.42,228.38 L344.09,228.13 L343.80,227.88 L343.55,227.64 L343.34,227.39 L343.16,227.14 L343.02,226.89 L342.91,226.64 L342.83,226.40 L342.77,226.15 L342.73,225.90 L342.70,225.65 L342.70,225.40 L342.71,225.16 L342.74,224.91 L342.78,224.66 L342.84,224.41 L342.92,224.16 L343.01,223.92 L343.12,223.67 L343.25,223.42 L343.40,223.17 L343.56,222.92 L343.73,222.68 L343.92,222.43 L344.12,222.18 L344.32,221.93 L344.52,221.68 L344.72,221.44 L344.90,221.19 L345.07,220.94 L345.22,220.69 L345.34,220.44 L345.43,220.20 L345.48,219.95 L345.50,219.70 L345.48,219.45 L345.43,219.20 L345.34,218.96 L345.22,218.71 L345.07,218.46 L344.90,218.21 L344.72,217.96 L344.52,217.72 L344.32,217.47 L344.12,217.22 L343.92,216.97 L343.73,216.72 L343.56,216.48 L343.40,216.23 L343.25,215.98 L343.12,215.73 L343.01,215.48 L342.91,215.24 L342.83,214.99 L342.76,214.74 L342.71,214.49 L342.66,214.24 L342.63,214.00 L342.61,213.75 L342.59,213.50 L342.59,213.25 L342.59,213.00 L342.60,212.76 L342.61,212.51 L342.63,212.26 L342.66,212.01 L342.70,211.76 L342.75,211.52 L342.80,211.27 L342.86,211.02 L342.93,210.77 L343.01,210.52 L343.10,210.28 L343.19,210.03 L343.28,209.78 L343.38,209.53 L343.48,209.28 L343.57,209.04 L343.66,208.79 L343.74,208.54 L343.81,208.29 L343.87,208.04 L343.91,207.80 L343.94,207.55 L343.95,207.30 L343.94,207.05 L343.91,206.80 L343.87,206.56 L343.81,206.31 L343.74,206.06 L343.66,205.81 L343.57,205.56 L343.48,205.32 L343.38,205.07 L343.28,204.82 L343.19,204.57 L343.10,204.32 L343.01,204.08 L342.93,203.83 L342.86,203.58 L342.80,203.33 L342.74,203.08 L342.70,202.84 L342.66,202.59 L342.62,202.34 L342.60,202.09 L342.58,201.84 L342.56,201.60 L342.55,201.35 L342.55,201.10 L342.55,200.85 L342.55,200.60 L342.55,200.36 L342.55,200.11 L342.55,199.86 L342.55,199.61 L342.56,199.36 L342.57,199.12 L342.58,198.87 L342.60,198.62 L342.62,198.37 L342.64,198.12 L342.66,197.88 L342.69,197.63 L342.72,197.38 L342.74,197.13 L342.77,196.88 L342.80,196.64 L342.82,196.39 L342.84,196.14 L342.86,195.89 L342.88,195.64 L342.89,195.40 L342.90,195.15 L342.90,194.90 L342.90,194.65 L342.89,194.40 L342.88,194.16 L342.86,193.91 L342.84,193.66 L342.82,193.41 L342.80,193.16 L342.77,192.92 L342.74,192.67 L342.72,192.42 L342.69,192.17 L342.66,191.92 L342.64,191.68 L342.62,191.43 L342.60,191.18 L342.58,190.93 L342.57,190.68 L342.55,190.44 L342.55,190.19 L342.55,189.94 L342.55,189.69 L342.55,189.44 L342.55,189.20 L342.55,188.95 L342.55,188.70 L342.55,188.45 L342.55,188.20 L342.55,187.96 L342.55,187.71 L342.55,187.46 L342.55,187.21 L342.55,186.96 L342.55,186.72 L342.55,186.47 L342.56,186.22 L342.57,185.97 L342.58,185.72 L342.59,185.48 L342.60,185.23 L342.62,184.98 L342.63,184.73 L342.65,184.48 L342.66,184.24 L342.68,183.99 L342.69,183.74 L342.70,183.49 L342.71,183.24 L342.71,183.00 L342.72,182.75 L342.72,182.50 L342.72,182.25 L342.71,182.00 L342.71,181.76 L342.70,181.51 L342.69,181.26 L342.68,181.01 L342.66,180.76 L342.65,180.52 L342.63,180.27 L342.62,180.02 L342.60,179.77 L342.59,179.52 L342.58,179.28 L342.57,179.03 L342.55,178.78 L342.55,178.53 L342.55,178.28 L342.55,178.04 L342.55,177.79 L342.55,177.54 L342.55,177.29 L342.55,177.04 L342.55,176.80 L342.55,176.55 L342.55,176.30 L342.55,176.05 L342.55,175.80 L342.55,175.56 L342.55,175.31 L342.55,175.06 L342.55,174.81 L342.55,174.56 L342.55,174.32 L342.55,174.07 L342.55,173.82 L342.55,173.57 L342.55,173.32 L342.55,173.08 L342.55,172.83 L342.55,172.58 L342.56,172.33 L342.57,172.08 L342.57,171.84 L342.58,171.59 L342.59,171.34 L342.59,171.09 L342.59,170.84 L342.60,170.60 L342.60,170.35 L342.60,170.10 L342.40,170.10 L342.40,170.35 L342.40,170.60 L342.41,170.84 L342.41,171.09 L342.41,171.34 L342.42,171.59 L342.43,171.84 L342.43,172.08 L342.44,172.33 L342.45,172.58 L342.45,172.83 L342.45,173.08 L342.45,173.32 L342.45,173.57 L342.45,173.82 L342.45,174.07 L342.45,174.32 L342.45,174.56 L342.45,174.81 L342.45,175.06 L342.45,175.31 L342.45,175.56 L342.45,175.80 L342.45,176.05 L342.45,176.30 L342.45,176.55 L342.45,176.80 L342.45,177.04 L342.45,177.29 L342.45,177.54 L342.45,177.79 L342.45,178.04 L342.45,178.28 L342.45,178.53 L342.45,178.78 L342.43,179.03 L342.42,179.28 L342.41,179.52 L342.40,179.77 L342.38,180.02 L342.37,180.27 L342.35,180.52 L342.34,180.76 L342.32,181.01 L342.31,181.26 L342.30,181.51 L342.29,181.76 L342.29,182.00 L342.28,182.25 L342.28,182.50 L342.28,182.75 L342.29,183.00 L342.29,183.24 L342.30,183.49 L342.31,183.74 L342.32,183.99 L342.34,184.24 L342.35,184.48 L342.37,184.73 L342.38,184.98 L342.40,185.23 L342.41,185.48 L342.42,185.72 L342.43,185.97 L342.44,186.22 L342.45,186.47 L342.45,186.72 L342.45,186.96 L342.45,187.21 L342.45,187.46 L342.45,187.71 L342.45,187.96 L342.45,188.20 L342.45,188.45 L342.45,188.70 L342.45,188.95 L342.45,189.20 L342.45,189.44 L342.45,189.69 L342.45,189.94 L342.45,190.19 L342.45,190.44 L342.43,190.68 L342.42,190.93 L342.40,191.18 L342.38,191.43 L342.36,191.68 L342.34,191.92 L342.31,192.17 L342.28,192.42 L342.26,192.67 L342.23,192.92 L342.20,193.16 L342.18,193.41 L342.16,193.66 L342.14,193.91 L342.12,194.16 L342.11,194.40 L342.10,194.65 L342.10,194.90 L342.10,195.15 L342.11,195.40 L342.12,195.64 L342.14,195.89 L342.16,196.14 L342.18,196.39 L342.20,196.64 L342.23,196.88 L342.26,197.13 L342.28,197.38 L342.31,197.63 L342.34,197.88 L342.36,198.12 L342.38,198.37 L342.40,198.62 L342.42,198.87 L342.43,199.12 L342.44,199.36 L342.45,199.61 L342.45,199.86 L342.45,200.11 L342.45,200.36 L342.45,200.60 L342.45,200.85 L342.45,201.10 L342.45,201.35 L342.44,201.60 L342.42,201.84 L342.40,202.09 L342.38,202.34 L342.34,202.59 L342.30,202.84 L342.26,203.08 L342.20,203.33 L342.14,203.58 L342.07,203.83 L341.99,204.08 L341.90,204.32 L341.81,204.57 L341.72,204.82 L341.62,205.07 L341.52,205.32 L341.43,205.56 L341.34,205.81 L341.26,206.06 L341.19,206.31 L341.13,206.56 L341.09,206.80 L341.06,207.05 L341.05,207.30 L341.06,207.55 L341.09,207.80 L341.13,208.04 L341.19,208.29 L341.26,208.54 L341.34,208.79 L341.43,209.04 L341.52,209.28 L341.62,209.53 L341.72,209.78 L341.81,210.03 L341.90,210.28 L341.99,210.52 L342.07,210.77 L342.14,211.02 L342.20,211.27 L342.25,211.52 L342.30,211.76 L342.34,212.01 L342.37,212.26 L342.39,212.51 L342.40,212.76 L342.41,213.00 L342.41,213.25 L342.41,213.50 L342.39,213.75 L342.37,214.00 L342.34,214.24 L342.29,214.49 L342.24,214.74 L342.17,214.99 L342.09,215.24 L341.99,215.48 L341.88,215.73 L341.75,215.98 L341.60,216.23 L341.44,216.48 L341.27,216.72 L341.08,216.97 L340.88,217.22 L340.68,217.47 L340.48,217.72 L340.28,217.96 L340.10,218.21 L339.93,218.46 L339.78,218.71 L339.66,218.96 L339.57,219.20 L339.52,219.45 L339.50,219.70 L339.52,219.95 L339.57,220.20 L339.66,220.44 L339.78,220.69 L339.93,220.94 L340.10,221.19 L340.28,221.44 L340.48,221.68 L340.68,221.93 L340.88,222.18 L341.08,222.43 L341.27,222.68 L341.44,222.92 L341.60,223.17 L341.75,223.42 L341.88,223.67 L341.99,223.92 L342.08,224.16 L342.16,224.41 L342.22,224.66 L342.26,224.91 L342.29,225.16 L342.30,225.40 L342.30,225.65 L342.27,225.90 L342.23,226.15 L342.17,226.40 L342.09,226.64 L341.98,226.89 L341.84,227.14 L341.66,227.39 L341.45,227.64 L341.20,227.88 L340.91,228.13 L340.58,228.38 L340.20,228.63 L339.79,228.88 L339.33,229.12 L338.85,229.37 L338.35,229.62 L337.83,229.87 L337.31,230.12 L336.81,230.36 L336.33,230.61 L335.90,230.86 L335.52,231.11 L335.22,231.36 L334.99,231.60 L334.85,231.85 L334.80,232.10 L334.85,232.35 L334.99,232.60 L335.22,232.84 L335.52,233.09 L335.90,233.34 L336.33,233.59 L336.81,233.84 L337.31,234.08 L337.83,234.33 L338.35,234.58 L338.85,234.83 L339.33,235.08 L339.78,235.32 L340.20,235.57 L340.57,235.82 L340.90,236.07 L341.19,236.32 L341.43,236.56 L341.63,236.81 L341.78,237.06 L341.90,237.31 L341.98,237.56 L342.02,237.80 L342.02,238.05 L341.98,238.30 L341.90,238.55 L341.77,238.80 L341.58,239.04 L341.34,239.29 L341.03,239.54 L340.65,239.79 L340.19,240.04 L339.64,240.28 L338.99,240.53 L338.26,240.78 L337.43,241.03 L336.51,241.28 L335.51,241.52 L334.44,241.77 L333.33,242.02 L332.19,242.27 L331.05,242.52 L329.94,242.76 L328.89,243.01 L327.93,243.26 L327.10,243.51 L326.42,243.76 L325.91,244.00 L325.60,244.25 L325.50,244.50 Z" fill="#a5002b" stroke="#000" stroke-width="0.6" stroke-linejoin="round"/>
<rect x="341.10" y="243.30" width="2.8" height="2.8" rx="0.8" fill="#000"/>
<text transform="translate(305.10,258.80) scale(0.92,1)" font-size="8.3" text-anchor="middle" font-weight="normal">Low risk</text>
<text transform="translate(342.30,258.80) scale(0.92,1)" font-size="8.3" text-anchor="middle" font-weight="normal">High risk</text>
<line x1="430.40" y1="166.00" x2="430.40" y2="248.50" stroke="#222" stroke-width="1.15" stroke-linecap="butt"/>
<line x1="429.90" y1="248.50" x2="510.90" y2="248.50" stroke="#444" stroke-width="1.6" stroke-linecap="butt"/>
<line x1="427.40" y1="172.20" x2="430.40" y2="172.20" stroke="#333" stroke-width="1.1" stroke-linecap="butt"/>
<text transform="translate(424.30,175.50) scale(0.95,1)" font-size="8.3" text-anchor="end" font-weight="normal">DNMT3A</text>
<rect x="434.00" y="169.80" width="38.16" height="2.40" fill="#386a51" stroke="none" stroke-width="0"/>
<rect x="434.00" y="172.20" width="47.18" height="2.40" fill="#a5002b" stroke="none" stroke-width="0"/>
<line x1="427.40" y1="182.22" x2="430.40" y2="182.22" stroke="#333" stroke-width="1.1" stroke-linecap="butt"/>
<text transform="translate(424.30,185.52) scale(0.95,1)" font-size="8.3" text-anchor="end" font-weight="normal">TET2</text>
<rect x="434.00" y="179.82" width="35.44" height="2.40" fill="#386a51" stroke="none" stroke-width="0"/>
<rect x="434.00" y="182.22" width="33.22" height="2.40" fill="#a5002b" stroke="none" stroke-width="0"/>
<line x1="427.40" y1="192.24" x2="430.40" y2="192.24" stroke="#333" stroke-width="1.1" stroke-linecap="butt"/>
<text transform="translate(424.30,195.54) scale(0.95,1)" font-size="8.3" text-anchor="end" font-weight="normal">ASXL1</text>
<rect x="434.00" y="189.84" width="2.72" height="2.40" fill="#386a51" stroke="none" stroke-width="0"/>
<rect x="434.00" y="192.24" width="9.14" height="2.40" fill="#a5002b" stroke="none" stroke-width="0"/>
<line x1="427.40" y1="202.26" x2="430.40" y2="202.26" stroke="#333" stroke-width="1.1" stroke-linecap="butt"/>
<text transform="translate(424.30,205.56) scale(0.95,1)" font-size="8.3" text-anchor="end" font-weight="normal">Spliceosome</text>
<rect x="434.00" y="199.86" width="0.99" height="2.40" fill="#386a51" stroke="none" stroke-width="0"/>
<rect x="434.00" y="202.26" width="6.92" height="2.40" fill="#a5002b" stroke="none" stroke-width="0"/>
<line x1="427.40" y1="212.28" x2="430.40" y2="212.28" stroke="#333" stroke-width="1.1" stroke-linecap="butt"/>
<text transform="translate(424.30,215.58) scale(0.95,1)" font-size="8.3" text-anchor="end" font-weight="normal">TP53</text>
<rect x="434.00" y="209.88" width="1.85" height="2.40" fill="#386a51" stroke="none" stroke-width="0"/>
<rect x="434.00" y="212.28" width="3.46" height="2.40" fill="#a5002b" stroke="none" stroke-width="0"/>
<line x1="427.40" y1="222.30" x2="430.40" y2="222.30" stroke="#333" stroke-width="1.1" stroke-linecap="butt"/>
<text transform="translate(424.30,225.60) scale(0.95,1)" font-size="8.3" text-anchor="end" font-weight="normal">JAK2</text>
<rect x="434.00" y="219.90" width="4.45" height="2.40" fill="#386a51" stroke="none" stroke-width="0"/>
<rect x="434.00" y="222.30" width="2.10" height="2.40" fill="#a5002b" stroke="none" stroke-width="0"/>
<line x1="427.40" y1="232.32" x2="430.40" y2="232.32" stroke="#333" stroke-width="1.1" stroke-linecap="butt"/>
<text transform="translate(424.30,235.62) scale(0.95,1)" font-size="8.3" text-anchor="end" font-weight="normal">CBL</text>
<rect x="434.00" y="229.92" width="4.45" height="2.40" fill="#386a51" stroke="none" stroke-width="0"/>
<rect x="434.00" y="232.32" width="2.10" height="2.40" fill="#a5002b" stroke="none" stroke-width="0"/>
<line x1="427.40" y1="242.34" x2="430.40" y2="242.34" stroke="#333" stroke-width="1.1" stroke-linecap="butt"/>
<text transform="translate(424.30,245.64) scale(0.95,1)" font-size="8.3" text-anchor="end" font-weight="normal">Others</text>
<rect x="434.00" y="239.94" width="5.43" height="2.40" fill="#386a51" stroke="none" stroke-width="0"/>
<rect x="434.00" y="242.34" width="5.43" height="2.40" fill="#a5002b" stroke="none" stroke-width="0"/>
<line x1="434.00" y1="248.50" x2="434.00" y2="251.20" stroke="#333" stroke-width="1.1" stroke-linecap="butt"/>
<text x="434.00" y="261.50" font-size="8.5" text-anchor="middle" font-weight="normal" style="stroke-width:0.08px">0</text>
<line x1="458.70" y1="248.50" x2="458.70" y2="251.20" stroke="#333" stroke-width="1.1" stroke-linecap="butt"/>
<text x="458.70" y="261.50" font-size="8.5" text-anchor="middle" font-weight="normal" style="stroke-width:0.08px">20</text>
<line x1="483.40" y1="248.50" x2="483.40" y2="251.20" stroke="#333" stroke-width="1.1" stroke-linecap="butt"/>
<text x="483.40" y="261.50" font-size="8.5" text-anchor="middle" font-weight="normal" style="stroke-width:0.08px">40</text>
<line x1="508.10" y1="248.50" x2="508.10" y2="251.20" stroke="#333" stroke-width="1.1" stroke-linecap="butt"/>
<text x="508.10" y="261.50" font-size="8.5" text-anchor="middle" font-weight="normal" style="stroke-width:0.08px">60</text>
<text transform="translate(471.00,274.10) scale(0.82,1)" font-size="8.3" text-anchor="middle" font-weight="normal" style="stroke-width:0.35px">Individuals (%)</text>
<rect x="474.20" y="217.50" width="6.00" height="5.80" fill="#386a51" stroke="none" stroke-width="0"/>
<rect x="474.20" y="227.40" width="6.00" height="5.80" fill="#a5002b" stroke="none" stroke-width="0"/>
<text transform="translate(483.30,222.45) scale(0.91,1)" font-size="7.6" text-anchor="start" font-weight="normal">Low risk</text>
<text transform="translate(483.30,232.25) scale(0.91,1)" font-size="7.6" text-anchor="start" font-weight="normal">High risk</text>
</g>
<rect x="1.5" y="1.5" width="517" height="281" fill="none" stroke="#000" stroke-opacity="0.15" stroke-width="1"/>
<rect x="0.5" y="0.5" width="519" height="283" fill="none" stroke="#000" stroke-width="1"/>
</svg>
</body></html>
